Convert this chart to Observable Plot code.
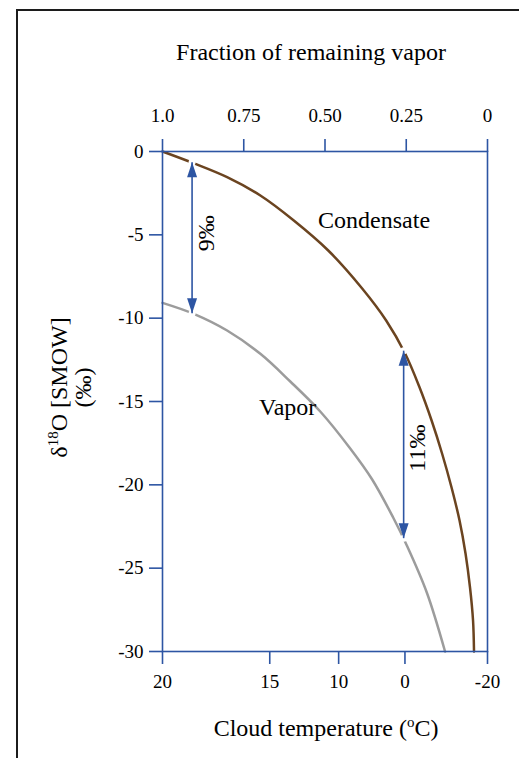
<!DOCTYPE html>
<html><head><meta charset="utf-8">
<script src="https://cdn.jsdelivr.net/npm/d3@7"></script>
<script src="https://cdn.jsdelivr.net/npm/@observablehq/plot@0.6"></script>
<style>
html,body{margin:0;padding:0;background:#fff;}
#wrap{position:relative;width:519px;height:758px;overflow:hidden;background:#fff;}
#border{position:absolute;left:16px;top:9px;width:600px;height:800px;border-left:2px solid #1c1c1c;border-top:2px solid #1c1c1c;pointer-events:none;}
</style></head><body>
<div id="wrap"><div id="chart"></div><div id="border"></div></div>
<script>
// Top axis: fraction of remaining vapor
const fractionTicks = [1.0, 0.75, 0.5, 0.25, 0];
const fractionLabels = ["1.0", "0.75", "0.50", "0.25", "0"];
// Bottom axis: cloud temperature (positions in fraction units)
const tempTickPos = [1.0, 0.670, 0.458, 0.254, 0.0];
const tempLabels = ["20", "15", "10", "0", "-20"];
// Left axis
const deltaTicks = [0, -5, -10, -15, -20, -25, -30];

// Condensate curve
const condF = [1.0, 0.9048, 0.8012, 0.6989, 0.5960, 0.4900, 0.3856, 0.3118, 0.2535, 0.2089, 0.1720, 0.1398, 0.1106, 0.0860, 0.0676, 0.0538, 0.0445, 0.0415];
const condD = [0, -0.70, -1.54, -2.64, -4.14, -5.94, -8.22, -10.14, -12.12, -14.16, -16.14, -18.12, -20.16, -22.14, -24.12, -26.16, -28.14, -30];
// Vapor curve
const vapF = [1.0, 0.9038, 0.8012, 0.6989, 0.6068, 0.5146, 0.4224, 0.3548, 0.2903, 0.2482, 0.1868, 0.1306];
const vapD = [-9.08, -9.74, -10.74, -12.14, -13.80, -15.60, -17.82, -19.68, -21.96, -23.64, -26.46, -30];

// Difference arrows
const arrowF = [0.909, 0.258];
const arrowTop = [-0.65, -11.95];
const arrowBottom = [-9.7, -23.2];
const arrowLabels = ["9‰", "11‰"];
const arrowLabelY = [-4.9, -17.8];

// Series labels
const seriesNames = ["Condensate", "Vapor"];
const seriesLabelF = [0.349, 0.615];
const seriesLabelD = [-4.14, -15.36];

const xTitle = "Cloud temperature (oC)";
const x2Title = "Fraction of remaining vapor";
const yTitle1 = "δ18O [SMOW]";
const yTitle2 = "(‰)";

const blue = "#2d55a3";
const brown = "#6b4420";
const gray = "#9c9c9c";

const cond = condF.map((f, i) => ({f, d: condD[i]}));
const vap = vapF.map((f, i) => ({f, d: vapD[i]}));
const arrows = arrowF.map((f, i) => ({f, top: arrowTop[i], bottom: arrowBottom[i], label: arrowLabels[i], ly: arrowLabelY[i]}));
const seriesLabels = seriesNames.map((n, i) => ({n, f: seriesLabelF[i], d: seriesLabelD[i]}));

const headSymbol = {draw(ctx) { ctx.moveTo(0, 0); ctx.lineTo(5, 15); ctx.lineTo(-5, 15); ctx.closePath(); }};

const chart = Plot.plot({
  width: 519, height: 758,
  marginLeft: 162, marginRight: 32, marginTop: 151, marginBottom: 107,
  style: {fontFamily: "'Liberation Serif', 'Times New Roman', serif", fontSize: "19px", color: "black", background: "white", overflow: "visible"},
  x: {domain: [1, 0], axis: null},
  y: {domain: [-30, 0], axis: null},
  marks: [
    Plot.line(cond, {x: "f", y: "d", stroke: brown, strokeWidth: 2.5, curve: "catmull-rom"}),
    Plot.line(vap, {x: "f", y: "d", stroke: gray, strokeWidth: 2.5, curve: "catmull-rom"}),
    Plot.dot(arrows, {x: "f", y: "top", r: 3.5, fill: "white", stroke: "none"}),
    Plot.dot(arrows, {x: "f", y: "bottom", r: 3.5, fill: "white", stroke: "none"}),
    Plot.link(arrows, {x1: "f", x2: "f", y1: "top", y2: "bottom", stroke: blue, strokeWidth: 1.6}),
    Plot.dot(arrows, {x: "f", y: "top", symbol: headSymbol, fill: blue, stroke: "none"}),
    Plot.dot(arrows, {x: "f", y: "bottom", symbol: headSymbol, rotate: 180, fill: blue, stroke: "none"}),
    Plot.text(arrows, {x: "f", y: "ly", text: "label", rotate: -90, dx: 14, fontSize: 24, fill: "black"}),
    Plot.text(seriesLabels, {x: "f", y: "d", text: "n", fontSize: 24, fill: "black"}),
    Plot.frame({stroke: blue, strokeWidth: 1.6}),
    Plot.axisX(fractionTicks, {anchor: "top", tickSize: 13, tickPadding: 17, tickFormat: d => fractionLabels[fractionTicks.indexOf(d)], stroke: blue, strokeWidth: 1.6, fill: "black", label: null, fontSize: 19}),
    Plot.axisX(tempTickPos, {anchor: "bottom", tickSize: 13, tickPadding: 10, tickFormat: d => tempLabels[tempTickPos.indexOf(d)], stroke: blue, strokeWidth: 1.6, fill: "black", label: null, fontSize: 19}),
    Plot.axisY(deltaTicks, {anchor: "left", tickSize: 13, tickPadding: 6, tickFormat: d => `${d}`, stroke: blue, strokeWidth: 1.6, fill: "black", label: null, fontSize: 19}),
    Plot.text([x2Title], {text: d => d, frameAnchor: "top", textAnchor: "middle", lineAnchor: "middle", dx: -14, dy: -99, fontSize: 24, fill: "black"}),
    Plot.text([xTitle], {text: d => d, frameAnchor: "bottom", textAnchor: "middle", lineAnchor: "middle", dx: 1, dy: 77, fontSize: 24, fill: "black"}),
    Plot.text([yTitle1], {text: d => d, frameAnchor: "left", textAnchor: "middle", lineAnchor: "middle", rotate: -90, dx: -103, dy: -14, fontSize: 24, fill: "black"}),
    Plot.text([yTitle2], {text: d => d, frameAnchor: "left", textAnchor: "middle", lineAnchor: "middle", rotate: -90, dx: -79, dy: -14, fontSize: 24, fill: "black"})
  ]
});
document.getElementById("chart").appendChild(chart);

// superscripts
d3.select(chart).selectAll("text").each(function() {
  const t = this.textContent;
  if (t === yTitle1) {
    const s = d3.select(this); s.text(null);
    s.append("tspan").text("δ");
    s.append("tspan").attr("font-size", 15).attr("dy", -9).text("18");
    s.append("tspan").attr("dy", 9).text("O [SMOW]");
  } else if (t === xTitle) {
    const s = d3.select(this); s.text(null);
    s.append("tspan").text("Cloud temperature (");
    s.append("tspan").attr("font-size", 15).attr("dy", -9).text("o");
    s.append("tspan").attr("dy", 9).text("C)");
  }
});
</script>
</body></html>
